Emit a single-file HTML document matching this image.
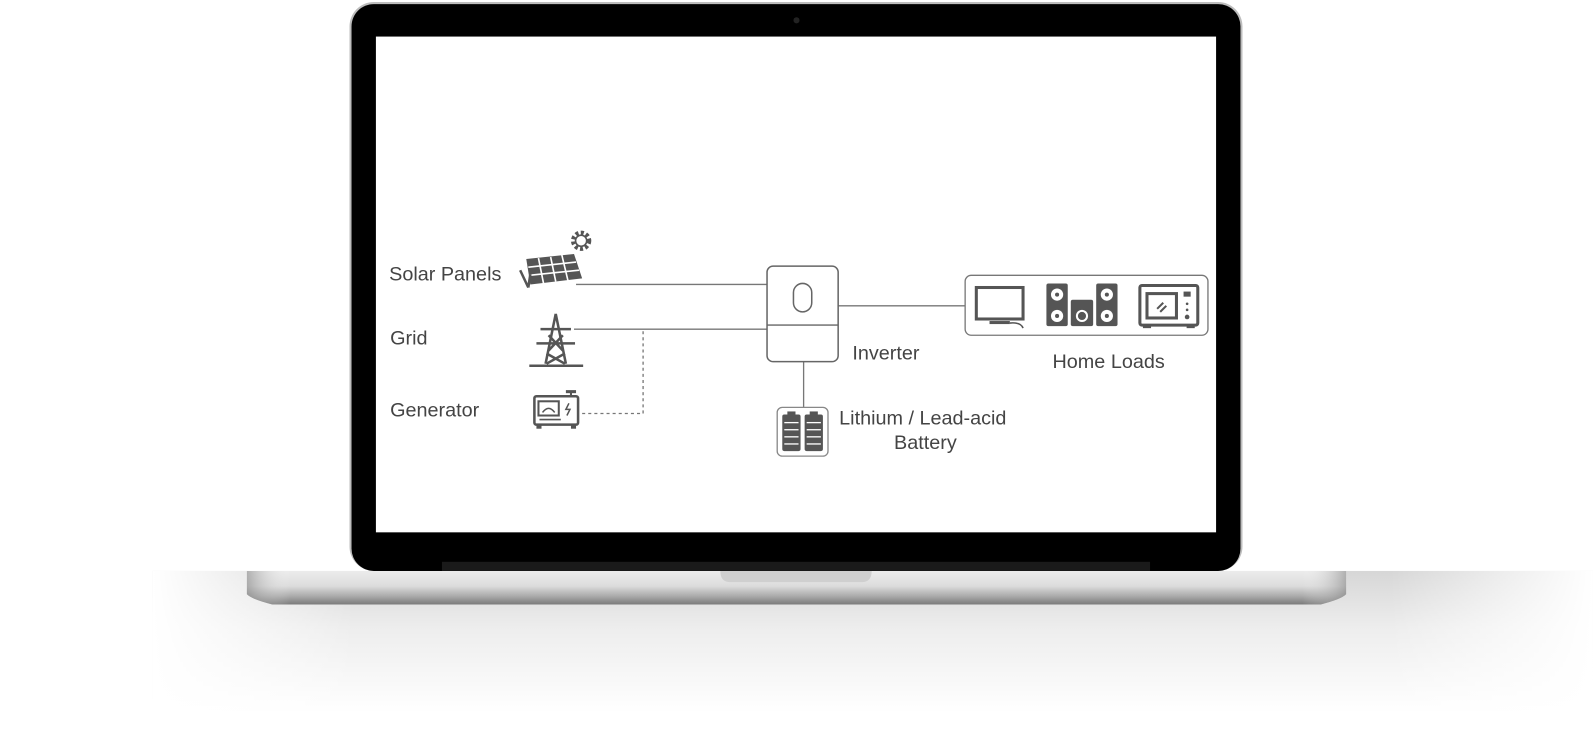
<!DOCTYPE html>
<html><head><meta charset="utf-8"><style>
html,body{margin:0;padding:0;background:#fff;width:1593px;height:734px;overflow:hidden}
svg{display:block}
text{font-family:"Liberation Sans",sans-serif;fill:#444;font-size:19.5px}
</style></head><body>
<svg width="1593" height="734" viewBox="0 0 1568 722.5" xmlns="http://www.w3.org/2000/svg">
<defs>
<linearGradient id="base" x1="0" y1="0" x2="0" y2="1">
<stop offset="0" stop-color="#ececec"/><stop offset="0.45" stop-color="#dcdcdc"/><stop offset="0.75" stop-color="#ababab"/><stop offset="1" stop-color="#7a7a7a"/>
</linearGradient>
<linearGradient id="baseH" x1="0" y1="0" x2="1" y2="0">
<stop offset="0" stop-color="#888" stop-opacity=".6"/><stop offset="0.04" stop-color="#fff" stop-opacity="0"/><stop offset="0.96" stop-color="#fff" stop-opacity="0"/><stop offset="1" stop-color="#888" stop-opacity=".6"/>
</linearGradient>
<linearGradient id="shv" x1="0" y1="0" x2="0" y2="1">
<stop offset="0" stop-color="#000" stop-opacity=".16"/><stop offset="0.4" stop-color="#000" stop-opacity=".07"/><stop offset="1" stop-color="#000" stop-opacity="0"/>
</linearGradient>
<linearGradient id="fadeL" x1="0" y1="0" x2="1" y2="0">
<stop offset="0" stop-color="#fff" stop-opacity="1"/><stop offset="1" stop-color="#fff" stop-opacity="0"/>
</linearGradient>
<linearGradient id="fadeR" x1="0" y1="0" x2="1" y2="0">
<stop offset="0" stop-color="#fff" stop-opacity="0"/><stop offset="1" stop-color="#fff" stop-opacity="1"/>
</linearGradient>
</defs>
<!-- shadow -->
<rect x="150" y="562" width="1418" height="140" fill="url(#shv)"/>
<rect x="150" y="562" width="200" height="140" fill="url(#fadeL)"/>
<rect x="1368" y="562" width="200" height="140" fill="url(#fadeR)"/>
<!-- bezel -->
<rect x="344" y="2" width="879" height="560" rx="24" fill="#bdbdbd"/>
<rect x="346" y="4" width="875" height="558" rx="22" fill="#000"/>
<rect x="370" y="36" width="827" height="488" fill="#fff"/>
<circle cx="784" cy="20" r="3" fill="#222"/>
<rect x="435" y="553" width="697" height="9" fill="#1a1a1a"/>
<!-- base -->
<path d="M243 562 H1325 V585 Q1320 590 1300 595 H268 Q248 590 243 585 Z" fill="url(#base)"/>
<path d="M243 562 H1325 V585 Q1320 590 1300 595 H268 Q248 590 243 585 Z" fill="url(#baseH)"/>
<path d="M709 562 H858 Q858 573 848 573 H719 Q709 573 709 562 Z" fill="#cfcfcf"/>

<!-- lines -->
<g stroke="#777" stroke-width="1.3" fill="none">
<line x1="567" y1="280" x2="755" y2="280"/>
<line x1="565" y1="324" x2="755" y2="324"/>
<line x1="825" y1="301" x2="950" y2="301"/>
<line x1="791" y1="356" x2="791" y2="401"/>
<path d="M633 326 V407 H572" stroke-dasharray="3,3"/>
</g>
<!-- inverter -->
<rect x="755" y="262" width="70" height="94" rx="6" fill="#fff" stroke="#666" stroke-width="1.5"/>
<line x1="755" y1="320" x2="825" y2="320" stroke="#666" stroke-width="1.3"/>
<rect x="781" y="279" width="18" height="28" rx="9" fill="none" stroke="#666" stroke-width="1.5"/>
<!-- loads box -->
<rect x="950" y="271" width="239" height="59" rx="6" fill="#fff" stroke="#777" stroke-width="1.3"/>
<!-- TV -->
<rect x="961" y="283" width="46" height="31" fill="none" stroke="#555" stroke-width="3"/>
<rect x="974" y="316" width="20" height="3" fill="#555"/>
<path d="M994 318 Q1005 317 1007 323" stroke="#555" stroke-width="1.5" fill="none"/>
<!-- speakers -->
<g fill="#555">
<rect x="1030" y="279" width="21" height="42" rx="2"/>
<rect x="1079" y="279" width="21" height="42" rx="2"/>
<rect x="1054" y="295" width="22" height="26" rx="2"/>
</g>
<g fill="#fff">
<circle cx="1040.5" cy="290" r="6"/><circle cx="1040.5" cy="311" r="6"/>
<circle cx="1089.5" cy="290" r="6"/><circle cx="1089.5" cy="311" r="6"/>
<circle cx="1065" cy="311" r="6"/>
</g>
<g fill="#555"><circle cx="1040.5" cy="290" r="2"/><circle cx="1040.5" cy="311" r="2"/><circle cx="1089.5" cy="290" r="2"/><circle cx="1089.5" cy="311" r="2"/><circle cx="1065" cy="311" r="4"/></g>
<!-- microwave -->
<rect x="1122" y="281" width="57" height="39" rx="2" fill="none" stroke="#555" stroke-width="3"/>
<rect x="1129" y="289" width="29" height="24" fill="none" stroke="#555" stroke-width="3"/>
<path d="M1139 304 l6 -6 M1142 307 l6 -6" stroke="#555" stroke-width="2"/>
<rect x="1165" y="287" width="7" height="5" fill="#555"/>
<circle cx="1168.5" cy="299" r="1.3" fill="#555"/><circle cx="1168.5" cy="305" r="1.3" fill="#555"/><circle cx="1168.5" cy="312" r="2.3" fill="#555"/>
<rect x="1125" y="320" width="8" height="3" fill="#555"/><rect x="1168" y="320" width="8" height="3" fill="#555"/>
<!-- battery -->
<rect x="765" y="401" width="50" height="48" rx="5" fill="#fff" stroke="#888" stroke-width="1.3"/>
<g fill="#555">
<rect x="770" y="408" width="18" height="36" rx="2"/><rect x="792" y="408" width="18" height="36" rx="2"/>
<rect x="775" y="405" width="8" height="3"/><rect x="797" y="405" width="8" height="3"/>
</g>
<g stroke="#fff" stroke-width="1.3">
<line x1="772" y1="416" x2="786" y2="416"/><line x1="772" y1="423" x2="786" y2="423"/><line x1="772" y1="430" x2="786" y2="430"/><line x1="772" y1="437" x2="786" y2="437"/>
<line x1="794" y1="416" x2="808" y2="416"/><line x1="794" y1="423" x2="808" y2="423"/><line x1="794" y1="430" x2="808" y2="430"/><line x1="794" y1="437" x2="808" y2="437"/>
</g>
<!-- solar panel -->
<path d="M518 255 L565 250 L573 274 L522 280 Z" fill="#555"/>
<g stroke="#fff" stroke-width="1.6">
<line x1="530" y1="254" x2="535" y2="279"/><line x1="542" y1="253" x2="547" y2="277"/><line x1="553" y1="251" x2="559" y2="276"/>
<line x1="520" y1="263" x2="567" y2="258"/><line x1="521" y1="271" x2="570" y2="266"/>
</g>
<path d="M512 266 L520 283 M522 270 L520 283" stroke="#555" stroke-width="2.5" fill="none"/>
<circle cx="572" cy="237" r="8" fill="none" stroke="#555" stroke-width="4" stroke-dasharray="3,2.3"/>
<circle cx="572" cy="237" r="5.5" fill="none" stroke="#555" stroke-width="1.6"/>
<!-- tower -->
<g stroke="#555" fill="none" stroke-width="2.5">
<path d="M547 309 L537 358 M547 309 L557 358"/>
<path d="M532 324 H562 M528 338 H566"/>
<path d="M540 330 L554 345 M554 330 L540 345 M538 348 L556 358 M556 348 L538 358"/>
<line x1="521" y1="360" x2="574" y2="360"/>
</g>
<!-- generator -->
<rect x="526" y="390" width="43" height="28" rx="2" fill="none" stroke="#555" stroke-width="2.5"/>
<rect x="530" y="395" width="20" height="14" fill="none" stroke="#555" stroke-width="2"/>
<path d="M534 406 q6 -8 12 0" stroke="#555" stroke-width="1.5" fill="none"/>
<path d="M560 397 l-3 6 h4 l-3 6" stroke="#555" stroke-width="1.5" fill="none"/>
<line x1="531" y1="413" x2="552" y2="413" stroke="#555" stroke-width="1.5"/>
<rect x="557" y="384" width="10" height="3" fill="#555"/><rect x="561" y="386" width="2" height="4" fill="#555"/>
<rect x="528" y="418" width="5" height="4" fill="#555"/><rect x="562" y="418" width="5" height="4" fill="#555"/>
<!-- labels -->
<text x="383" y="276">Solar Panels</text>
<text x="384" y="339">Grid</text>
<text x="384" y="410">Generator</text>
<text x="839" y="354">Inverter</text>
<text x="1036" y="362">Home Loads</text>
<text x="826" y="418">Lithium / Lead-acid</text>
<text x="880" y="442">Battery</text>
</svg>
</body></html>
